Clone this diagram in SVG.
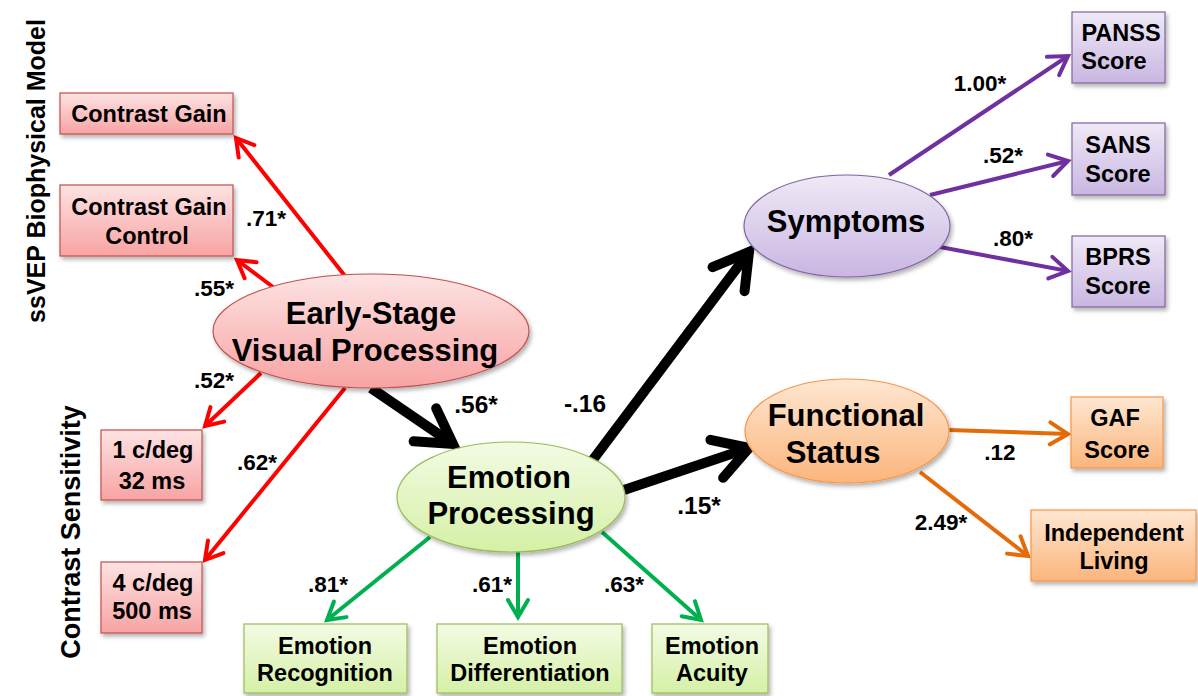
<svg xmlns="http://www.w3.org/2000/svg" width="1198" height="696" viewBox="0 0 1198 696">
<style>
text{font-family:"Liberation Sans",Arial,sans-serif;font-weight:bold;fill:#000;}
.bt{font-size:23.5px;text-anchor:middle;}
.et{font-size:31px;text-anchor:middle;}
.lb{font-size:22.5px;text-anchor:middle;}
.lbb{font-size:24.5px;text-anchor:middle;}
.vt{font-size:25px;text-anchor:middle;}
.vt2{font-size:27px;text-anchor:middle;}
.red{stroke:#ff0000;stroke-width:4;fill:none;}
.grn{stroke:#00b050;stroke-width:4;fill:none;}
.pur{stroke:#7030a0;stroke-width:4;fill:none;}
.org{stroke:#e36c09;stroke-width:4;fill:none;}
.blk{stroke:#000;stroke-width:10;fill:none;}
.rbox{fill:url(#gr);stroke:#c0504d;stroke-width:1.2;filter:url(#sh);}
.gbox{fill:url(#gg);stroke:#9bbb59;stroke-width:1.2;filter:url(#sh);}
.pbox{fill:url(#gp);stroke:#8064a2;stroke-width:1.2;filter:url(#sh);}
.obox{fill:url(#go);stroke:#f79646;stroke-width:1.2;filter:url(#sh);}
</style>
<defs>
<filter id="sh" x="-20%" y="-20%" width="150%" height="150%">
<feDropShadow dx="2" dy="3" stdDeviation="2" flood-color="#000" flood-opacity="0.3"/>
</filter>
<linearGradient id="gr" x1="0" y1="0" x2="0" y2="1"><stop offset="0" stop-color="#fde3e3"/><stop offset="1" stop-color="#f8a3a3"/></linearGradient>
<linearGradient id="gg" x1="0" y1="0" x2="0" y2="1"><stop offset="0" stop-color="#f3fbe4"/><stop offset="1" stop-color="#d5f0a6"/></linearGradient>
<linearGradient id="gp" x1="0" y1="0" x2="0" y2="1"><stop offset="0" stop-color="#efe9f6"/><stop offset="1" stop-color="#c9b6e2"/></linearGradient>
<linearGradient id="go" x1="0" y1="0" x2="0" y2="1"><stop offset="0" stop-color="#fee7d2"/><stop offset="1" stop-color="#fbb57c"/></linearGradient>
<marker id="mr" markerUnits="userSpaceOnUse" viewBox="-30 -20 40 40" markerWidth="40" markerHeight="40" refX="0" refY="0" orient="auto" overflow="visible"><path d="M-17,-10 L0,0 L-17,10" fill="none" stroke="#ff0000" stroke-width="4" stroke-linecap="round" stroke-linejoin="miter"/></marker>
<marker id="mg" markerUnits="userSpaceOnUse" viewBox="-30 -20 40 40" markerWidth="40" markerHeight="40" refX="0" refY="0" orient="auto" overflow="visible"><path d="M-17,-10 L0,0 L-17,10" fill="none" stroke="#00b050" stroke-width="4" stroke-linecap="round"/></marker>
<marker id="mp" markerUnits="userSpaceOnUse" viewBox="-30 -20 40 40" markerWidth="40" markerHeight="40" refX="0" refY="0" orient="auto" overflow="visible"><path d="M-18,-11 L0,0 L-18,11" fill="none" stroke="#7030a0" stroke-width="4" stroke-linecap="round"/></marker>
<marker id="mo" markerUnits="userSpaceOnUse" viewBox="-30 -20 40 40" markerWidth="40" markerHeight="40" refX="0" refY="0" orient="auto" overflow="visible"><path d="M-18,-11 L0,0 L-18,11" fill="none" stroke="#e36c09" stroke-width="4" stroke-linecap="round"/></marker>
<marker id="mb" markerUnits="userSpaceOnUse" viewBox="-50 -30 60 60" markerWidth="60" markerHeight="60" refX="0" refY="0" orient="auto" overflow="visible"><path d="M-34,-20 L0,0 L-34,20" fill="none" stroke="#000" stroke-width="10" stroke-linecap="round" stroke-linejoin="miter"/></marker>
</defs>
<rect width="1198" height="696" fill="#fff"/>

<g id="labels-vertical">
<text class="vt" transform="translate(45,171) rotate(-90)">ssVEP Biophysical Model</text>
<text class="vt2" transform="translate(80,532) rotate(-90)">Contrast Sensitivity</text>
</g>

<g id="connectors">
<line class="red" x1="345" y1="276" x2="236" y2="138" marker-end="url(#mr)"/>
<line class="red" x1="273" y1="287" x2="237" y2="260" marker-end="url(#mr)"/>
<line class="red" x1="261" y1="373" x2="205" y2="426" marker-end="url(#mr)"/>
<line class="red" x1="345" y1="388" x2="205" y2="560" marker-end="url(#mr)"/>
<line class="blk" x1="371" y1="388" x2="453" y2="444" marker-end="url(#mb)"/>
<line class="blk" x1="592" y1="461" x2="749" y2="252" marker-end="url(#mb)"/>
<line class="blk" x1="624" y1="490" x2="749" y2="448" marker-end="url(#mb)"/>
<line class="grn" x1="430" y1="537" x2="327" y2="620" marker-end="url(#mg)"/>
<line class="grn" x1="518" y1="552" x2="518" y2="617" marker-end="url(#mg)"/>
<line class="grn" x1="602" y1="532" x2="701" y2="620" marker-end="url(#mg)"/>
<line class="pur" x1="889" y1="175" x2="1068" y2="56" marker-end="url(#mp)"/>
<line class="pur" x1="930" y1="195" x2="1068" y2="161" marker-end="url(#mp)"/>
<line class="pur" x1="940" y1="247" x2="1068" y2="271" marker-end="url(#mp)"/>
<line class="org" x1="949" y1="430" x2="1068" y2="434" marker-end="url(#mo)"/>
<line class="org" x1="920" y1="472" x2="1028" y2="556" marker-end="url(#mo)"/>
</g>

<g id="edge-labels">
<text class="lb" x="266" y="226">.71*</text>
<text class="lb" x="214" y="296">.55*</text>
<text class="lb" x="214" y="388">.52*</text>
<text class="lb" x="257" y="470">.62*</text>
<text class="lbb" x="476" y="413">.56*</text>
<text class="lbb" x="585" y="412">-.16</text>
<text class="lbb" x="699" y="514">.15*</text>
<text class="lb" x="328" y="592">.81*</text>
<text class="lb" x="492" y="592">.61*</text>
<text class="lb" x="624" y="592">.63*</text>
<text class="lb" x="980" y="91">1.00*</text>
<text class="lb" x="1003" y="163">.52*</text>
<text class="lb" x="1013" y="246">.80*</text>
<text class="lb" x="1000" y="460">.12</text>
<text class="lb" x="941" y="530">2.49*</text>
</g>

<g id="contrast-gain"><rect class="rbox" x="60" y="93" width="173" height="41"/><text class="bt" x="149" y="122">Contrast Gain</text></g>
<g id="contrast-gain-control"><rect class="rbox" x="60" y="185" width="173" height="71"/><text class="bt" x="149" y="215">Contrast Gain</text><text class="bt" x="147" y="244">Control</text></g>
<g id="cs-1cdeg"><rect class="rbox" x="101" y="430" width="101" height="70"/><text class="bt" x="153" y="458">1 c/deg</text><text class="bt" x="152" y="489">32 ms</text></g>
<g id="cs-4cdeg"><rect class="rbox" x="101" y="562" width="101" height="71"/><text class="bt" x="153" y="591">4 c/deg</text><text class="bt" x="152" y="619">500 ms</text></g>

<g id="early-stage"><ellipse cx="371" cy="331" rx="158" ry="57" fill="url(#gr)" stroke="#c0504d" stroke-width="1.2" filter="url(#sh)"/><text class="et" x="371" y="324">Early-Stage</text><text class="et" x="365" y="361">Visual Processing</text></g>
<g id="emotion-processing"><ellipse cx="511" cy="497" rx="114" ry="55" fill="url(#gg)" stroke="#9bbb59" stroke-width="1.2" filter="url(#sh)"/><text class="et" x="509" y="488">Emotion</text><text class="et" x="511" y="524">Processing</text></g>
<g id="symptoms"><ellipse cx="847" cy="226" rx="103" ry="51" fill="url(#gp)" stroke="#8064a2" stroke-width="1.2" filter="url(#sh)"/><text class="et" x="846" y="232">Symptoms</text></g>
<g id="functional-status"><ellipse cx="847" cy="431" rx="102" ry="52" fill="url(#go)" stroke="#f79646" stroke-width="1.2" filter="url(#sh)"/><text class="et" x="846" y="426">Functional</text><text class="et" x="833" y="463">Status</text></g>

<g id="emotion-recognition"><rect class="gbox" x="244" y="624" width="163" height="69"/><text class="bt" x="325" y="654">Emotion</text><text class="bt" x="325" y="681">Recognition</text></g>
<g id="emotion-differentiation"><rect class="gbox" x="437" y="624" width="185" height="69"/><text class="bt" x="530" y="654">Emotion</text><text class="bt" x="530" y="681">Differentiation</text></g>
<g id="emotion-acuity"><rect class="gbox" x="652" y="624" width="116" height="69"/><text class="bt" x="712" y="654">Emotion</text><text class="bt" x="712" y="681">Acuity</text></g>

<g id="panss"><rect class="pbox" x="1072" y="12" width="93" height="71"/><text class="bt" x="1121" y="41">PANSS</text><text class="bt" x="1114" y="69">Score</text></g>
<g id="sans"><rect class="pbox" x="1072" y="123" width="93" height="72"/><text class="bt" x="1118" y="153">SANS</text><text class="bt" x="1118" y="182">Score</text></g>
<g id="bprs"><rect class="pbox" x="1072" y="236" width="93" height="71"/><text class="bt" x="1118" y="265">BPRS</text><text class="bt" x="1118" y="294">Score</text></g>
<g id="gaf"><rect class="obox" x="1071" y="397" width="92" height="71"/><text class="bt" x="1115" y="426">GAF</text><text class="bt" x="1117" y="458">Score</text></g>
<g id="independent-living"><rect class="obox" x="1031" y="510" width="165" height="71"/><text class="bt" x="1114" y="541">Independent</text><text class="bt" x="1114" y="569">Living</text></g>
</svg>
